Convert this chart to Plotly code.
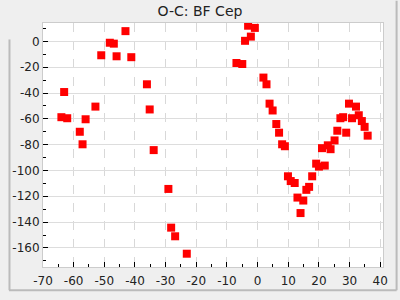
import plotly.graph_objects as go

cycle = [-64.0, -63.1, -62.1, -58.0, -57.1, -56.1, -52.9, -51.0, -48.2, -46.9, -46.0,
         -43.1, -41.2, -36.1, -35.2, -33.9, -29.1, -28.2, -26.9, -23.1,
         -6.9, -5.0, -4.1, -3.1, -2.2, -0.9, 1.9, 2.9, 3.9, 4.9, 6.1, 7.0, 8.0, 8.9,
         9.9, 10.8, 12.1, 13.0, 14.0, 14.9, 15.9, 16.8, 17.8, 19.1, 20.0, 21.0, 21.9,
         22.9, 23.8, 25.1, 26.0, 27.0, 27.9, 28.9, 29.8, 30.8, 32.1, 33.0, 34.0, 34.9, 35.9]
oc = [-58.7, -39.2, -59.5, -70.0, -79.7, -60.3, -50.5, -10.7, -1.0, -1.7, -11.5,
      8.0, -12.2, -33.2, -52.7, -84.2, -114.3, -144.3, -151.0, -164.5,
      -16.7, -17.5, 0.5, 12.2, 3.75, 10.5, -28.0, -33.2, -48.2, -53.5, -64.0, -70.7, -79.7, -81.2,
      -104.5, -108.2, -109.7, -121.0, -133.0, -123.3, -115.0, -112.7, -104.5, -94.7, -97.0, -82.7, -96.2,
      -80.5, -83.5, -76.7, -69.2, -59.5, -58.7, -70.7, -48.2, -59.5, -50.5, -57.2, -61.7, -66.2, -73.0]

x_tickvals = [-70, -60, -50, -40, -30, -20, -10, 0, 10, 20, 30, 40]
x_ticktext = ["-70", "-60", "-50", "-40", "-30", "-20", "-10", "0", "10", "20", "30", "40"]
y_tickvals = [0, -20, -40, -60, -80, -100, -120, -140, -160]
y_ticktext = ["0", "-20", "-40", "-60", "-80", "-100", "-120", "-140", "-160"]

title_text = "O-C: BF Cep"

fig = go.Figure()
fig.add_trace(go.Scatter(
    x=cycle, y=oc, mode="markers",
    marker=dict(symbol="square", size=8, color="#ff0000", line=dict(width=0)),
    hoverinfo="x+y", showlegend=False,
))

font = "DejaVu Sans, Verdana, sans-serif"
fig.update_layout(
    width=400, height=300,
    margin=dict(l=35, r=15, t=23, b=25),
    paper_bgcolor="#efefef",
    plot_bgcolor="#ffffff",
    font=dict(family=font, size=12, color="#222222"),
    title=dict(text=title_text, x=0.5, xanchor="center", y=0.963, yanchor="middle",
               font=dict(family=font, size=14, color="#222222")),
    xaxis=dict(
        range=[-70, 40.9], tickmode="array", tickvals=x_tickvals, ticktext=x_ticktext,
        ticks="inside", ticklen=5, tickcolor="#000000", tickwidth=1,
        minor=dict(ticks="inside", ticklen=3, tick0=-70, dtick=5, tickcolor="#000000", showgrid=False),
        showgrid=True, gridcolor="#d8d8d8", griddash="dash", gridwidth=1,
        showline=True, linecolor="#cccccc", linewidth=1, mirror=True,
        zeroline=False, tickfont=dict(size=12), ticklabelstandoff=3,
    ),
    yaxis=dict(
        range=[-174.8, 14.3], tickmode="array", tickvals=y_tickvals, ticktext=y_ticktext,
        ticks="inside", ticklen=5, tickcolor="#000000", tickwidth=1,
        minor=dict(ticks="inside", ticklen=3, tick0=0, dtick=10, tickcolor="#000000", showgrid=False),
        showgrid=True, gridcolor="#dddddd", gridwidth=1,
        showline=True, linecolor="#cccccc", linewidth=1, mirror=True,
        zeroline=False, tickfont=dict(size=12),
    ),
)

# outer frame (right, bottom, left) in paper coordinates
W, H, L, T = 350.0, 252.0, 35.0, 23.0
def px(xp):
    return (xp - L) / W
def py(yp):
    return 1 - (yp - T) / H
for (x0, y0, x1, y1) in [(399, 0, 399, 299), (0, 299, 399, 299), (0.5, 40, 0.5, 299)]:
    fig.add_shape(type="line", xref="paper", yref="paper",
                  x0=px(x0), y0=py(y0), x1=px(x1), y1=py(y1),
                  line=dict(color="#bbbbbb", width=2))

fig.write_html("out.html")
